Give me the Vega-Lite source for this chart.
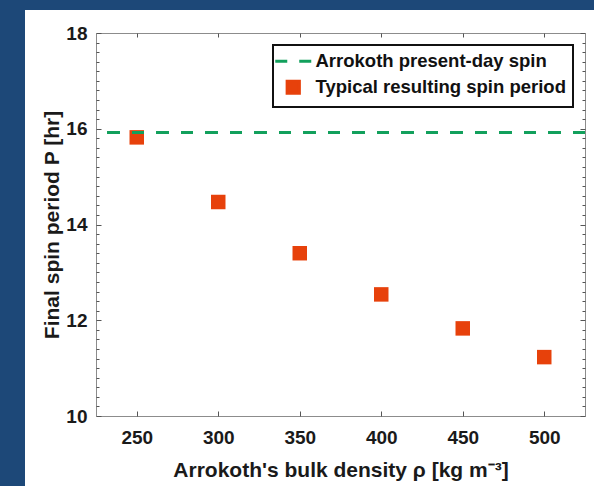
{
  "$schema": "https://vega.github.io/schema/vega-lite/v6.json",
  "padding": 0,
  "background": "white",
  "spacing": 0,
  "resolve": {"scale": {"color": "independent"}, "legend": {"color": "independent"}},
  "config": {
    "font": "Liberation Sans",
    "view": {"stroke": "#8c8c8c", "strokeWidth": 1},
    "axis": {
      "domain": false,
      "grid": false,
      "tickColor": "#555555",
      "tickWidth": 1,
      "labelFont": "Liberation Sans",
      "labelFontWeight": "bold",
      "labelFontSize": 19,
      "labelColor": "#1a1a1a",
      "titleFont": "Liberation Sans",
      "titleFontWeight": "bold",
      "titleFontSize": 21,
      "titleColor": "#1a1a1a"
    },
    "legend": {"labelLimit": 0}
  },
  "datasets": {
    "spin": [
      {"rho": 250, "P": 15.82},
      {"rho": 300, "P": 14.47},
      {"rho": 350, "P": 13.4},
      {"rho": 400, "P": 12.54},
      {"rho": 450, "P": 11.83},
      {"rho": 500, "P": 11.23}
    ]
  },
  "hconcat": [
    {
      "width": 25,
      "height": 486,
      "data": {"values": []},
      "mark": "rect",
      "view": {"fill": "#1d4878", "stroke": null}
    },
    {
      "spacing": 13,
      "resolve": {"scale": {"color": "independent"}, "legend": {"color": "independent"}},
      "vconcat": [
        {
          "width": 569,
          "height": 10,
          "data": {"values": []},
          "mark": "rect",
          "view": {"fill": "#1d4878", "stroke": null}
        },
        {
          "spacing": 15,
          "resolve": {"scale": {"color": "independent"}, "legend": {"color": "independent"}},
          "hconcat": [
            {
              "width": 1,
              "height": 1,
              "data": {"values": []},
              "mark": "rect",
              "view": {"fill": null, "stroke": null}
            },
            {
              "width": 489,
              "height": 383,
              "data": {"name": "spin"},
              "resolve": {"axis": {"x": "independent", "y": "independent"}},
              "layer": [
                {
                  "mark": {"type": "point", "shape": "square", "filled": true, "size": 210, "opacity": 1},
                  "encoding": {
                    "x": {
                      "field": "rho", "type": "quantitative",
                      "scale": {"domain": [225, 525], "nice": false, "zero": false},
                      "axis": {"orient": "bottom", "values": [250, 300, 350, 400, 450, 500], "tickSize": -5, "labelPadding": 17, "title": "Arrokoth's bulk density ρ [kg m⁻³]", "titlePadding": 12}
                    },
                    "y": {
                      "field": "P", "type": "quantitative",
                      "scale": {"domain": [10, 18], "nice": false, "zero": false},
                      "axis": {"orient": "left", "values": [10, 12, 14, 16, 18], "tickSize": -5, "labelPadding": 14, "title": "Final spin period P [hr]", "titlePadding": 3}
                    },
                    "color": {
                      "datum": "Typical resulting spin period", "type": "nominal",
                      "scale": {"domain": ["Arrokoth present-day spin", "Typical resulting spin period"], "range": ["#12a05c", "#e7410b"]},
                      "legend": {
                        "title": null, "orient": "top-right", "offset": 12, "columns": 1,
                        "fillColor": "white", "strokeColor": "#111111", "padding": 7,
                        "labelFont": "Liberation Sans", "labelFontWeight": "bold", "labelFontSize": 18.5, "labelColor": "#111111", "labelLimit": 0,
                        "symbolSize": 1296, "symbolOffset": 4, "rowPadding": 4, "labelOffset": 13,
                        "encode": {
                          "legend": {"update": {"strokeWidth": {"value": 2}}},
                          "symbols": {"update": {
                            "shape": {"signal": "datum.value == 'Arrokoth present-day spin' ? 'stroke' : 'square'"},
                            "size": {"signal": "datum.value == 'Arrokoth present-day spin' ? 1296 : 150"},
                            "stroke": {"signal": "datum.value == 'Arrokoth present-day spin' ? '#12a05c' : 'transparent'"},
                            "fill": {"signal": "datum.value == 'Arrokoth present-day spin' ? 'transparent' : '#e7410b'"},
                            "strokeWidth": {"value": 3},
                            "strokeDash": {"signal": "datum.value == 'Arrokoth present-day spin' ? [12, 12] : [1, 0]"},
                            "opacity": {"value": 1}
                          }}
                        }
                      }
                    }
                  }
                },
                {
                  "mark": {"type": "rule", "color": "#12a05c", "strokeWidth": 3, "strokeDash": [12, 12.5]},
                  "encoding": {
                    "y": {"datum": 15.92, "type": "quantitative", "axis": null},
                    "color": {
                      "datum": "Arrokoth present-day spin", "type": "nominal",
                      "legend": {
                        "title": null, "orient": "top-right", "offset": 12, "columns": 1,
                        "fillColor": "white", "strokeColor": "#111111", "padding": 7,
                        "labelFont": "Liberation Sans", "labelFontWeight": "bold", "labelFontSize": 18.5, "labelColor": "#111111", "labelLimit": 0,
                        "symbolSize": 1296, "symbolOffset": 4, "rowPadding": 4, "labelOffset": 13,
                        "encode": {
                          "legend": {"update": {"strokeWidth": {"value": 2}}},
                          "symbols": {"update": {
                            "shape": {"signal": "datum.value == 'Arrokoth present-day spin' ? 'stroke' : 'square'"},
                            "size": {"signal": "datum.value == 'Arrokoth present-day spin' ? 1296 : 150"},
                            "stroke": {"signal": "datum.value == 'Arrokoth present-day spin' ? '#12a05c' : 'transparent'"},
                            "fill": {"signal": "datum.value == 'Arrokoth present-day spin' ? 'transparent' : '#e7410b'"},
                            "strokeWidth": {"value": 3},
                            "strokeDash": {"signal": "datum.value == 'Arrokoth present-day spin' ? [12, 12] : [1, 0]"},
                            "opacity": {"value": 1}
                          }}
                        }
                      }
                    }
                  }
                },
                {
                  "mark": {"type": "point", "opacity": 0},
                  "encoding": {
                    "x": {"field": "rho", "type": "quantitative", "axis": {"orient": "top", "values": [250, 300, 350, 400, 450, 500], "tickSize": -4, "labels": false, "title": null}},
                    "y": {"field": "P", "type": "quantitative", "axis": {"orient": "right", "values": [10, 12, 14, 16, 18], "tickSize": -5, "labels": false, "title": null}}
                  }
                },
                {
                  "mark": {"type": "point", "opacity": 0},
                  "encoding": {
                    "x": {"field": "rho", "type": "quantitative", "axis": null},
                    "y": {"field": "P", "type": "quantitative", "axis": {"orient": "left", "values": [10.2, 10.4, 10.6, 10.8, 11, 11.2, 11.4, 11.6, 11.8, 12.2, 12.4, 12.6, 12.8, 13, 13.2, 13.4, 13.6, 13.8, 14.2, 14.4, 14.6, 14.8, 15, 15.2, 15.4, 15.6, 15.8, 16.2, 16.4, 16.6, 16.8, 17, 17.2, 17.4, 17.6, 17.8], "tickSize": -3, "labels": false, "title": null}}
                  }
                },
                {
                  "mark": {"type": "point", "opacity": 0},
                  "encoding": {
                    "x": {"field": "rho", "type": "quantitative", "axis": null},
                    "y": {"field": "P", "type": "quantitative", "axis": {"orient": "right", "values": [10.2, 10.4, 10.6, 10.8, 11, 11.2, 11.4, 11.6, 11.8, 12.2, 12.4, 12.6, 12.8, 13, 13.2, 13.4, 13.6, 13.8, 14.2, 14.4, 14.6, 14.8, 15, 15.2, 15.4, 15.6, 15.8, 16.2, 16.4, 16.6, 16.8, 17, 17.2, 17.4, 17.6, 17.8], "tickSize": -3, "labels": false, "title": null}}
                  }
                }
              ]
            }
          ]
        }
      ]
    }
  ]
}
